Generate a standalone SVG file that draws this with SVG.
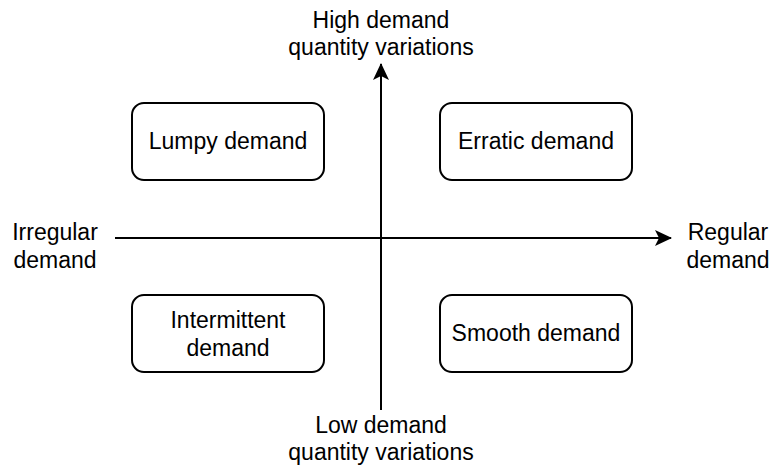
<svg xmlns="http://www.w3.org/2000/svg" width="769" height="468" viewBox="0 0 769 468">
<style>
text{font-family:"Liberation Sans",Arial,sans-serif;font-size:23px;fill:#000;text-anchor:middle}
.box{fill:#fff;stroke:#000;stroke-width:2}
.ax{stroke:#000;stroke-width:2;fill:none}
</style>
<defs>
<marker id="ah" viewBox="0 0 17 16" refX="16" refY="8" markerWidth="17" markerHeight="16" markerUnits="userSpaceOnUse" orient="auto">
<path d="M0,0 L17,8 L0,16 L4,8 Z" fill="#000"/>
</marker>
</defs>
<rect width="769" height="468" fill="#fff"/>
<g id="connectors">
<line class="ax" x1="115" y1="238" x2="671" y2="238" marker-end="url(#ah)"/>
<line class="ax" x1="381" y1="410" x2="381" y2="64" marker-end="url(#ah)"/>
</g>
<g id="lumpy"><rect class="box" x="132" y="103" width="192" height="77" rx="12"/><text x="228" y="149">Lumpy demand</text></g>
<g id="erratic"><rect class="box" x="440" y="103" width="192" height="77" rx="12"/><text x="536" y="149">Erratic demand</text></g>
<g id="intermittent"><rect class="box" x="132" y="295" width="192" height="77" rx="12"/><text x="228" y="328">Intermittent</text><text x="228" y="356">demand</text></g>
<g id="smooth"><rect class="box" x="440" y="295" width="192" height="77" rx="12"/><text x="536" y="341">Smooth demand</text></g>
<g id="high"><text x="381" y="28">High demand</text><text x="381" y="55">quantity variations</text></g>
<g id="low"><text x="381" y="433">Low demand</text><text x="381" y="460">quantity variations</text></g>
<g id="irregular"><text x="55" y="240">Irregular</text><text x="55" y="268">demand</text></g>
<g id="regular"><text x="728" y="240">Regular</text><text x="728" y="268">demand</text></g>
</svg>
